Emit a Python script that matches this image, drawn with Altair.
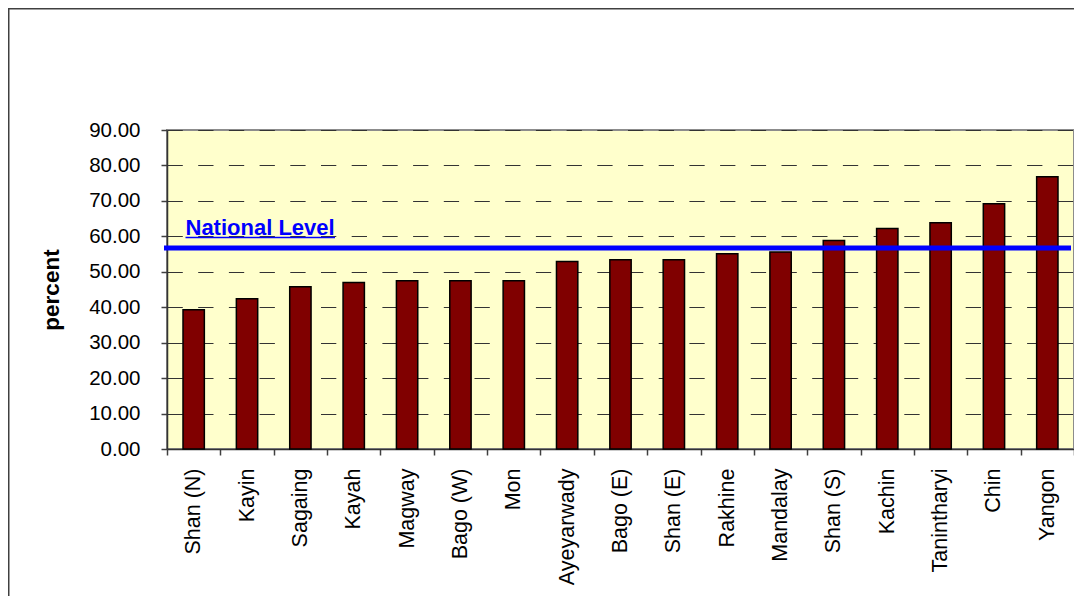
import altair as alt
import pandas as pd

regions = ["Shan (N)", "Kayin", "Sagaing", "Kayah", "Magway", "Bago (W)", "Mon",
           "Ayeyarwady", "Bago (E)", "Shan (E)", "Rakhine", "Mandalay", "Shan (S)",
           "Kachin", "Tanintharyi", "Chin", "Yangon"]
values = [39.3, 42.4, 45.8, 47.0, 47.5, 47.5, 47.5, 52.9, 53.4, 53.4, 55.1, 55.6,
          58.8, 62.2, 63.8, 69.2, 76.8]
y_ticks = [0, 10, 20, 30, 40, 50, 60, 70, 80, 90]
national_value = 56.7
national_label = "National Level"
y_title = "percent"

FONT = "Liberation Sans, Arial, sans-serif"
W, H = 907, 319

df = pd.DataFrame({"region": regions, "value": values})
one = pd.DataFrame({"v": [national_value], "t": [national_label]})

y_scale = alt.Scale(domain=[0, 90], nice=False)
y_axis = alt.Axis(title=y_title, values=y_ticks, format=".2f", labelOverlap=False,
                  tickSize=6, tickColor="#404040", tickWidth=1.5,
                  domainColor="#333333", domainWidth=1.5,
                  labelPadding=21, labelFontSize=20.5, labelFont=FONT,
                  labelColor="black",
                  grid=True, gridColor="#333333", gridWidth=1,
                  gridDash=[15.3, 15.4],
                  titleFont=FONT, titleFontSize=22.5, titleFontWeight="bold",
                  titleColor="black", titlePadding=25)

frame = alt.Chart(one).mark_rect(filled=False, stroke="#404040", strokeWidth=1.5).encode(
    x=alt.value(-158.25), x2=alt.value(W + 60),
    y=alt.value(-121.25), y2=alt.value(H + 220)
)

bars = alt.Chart(df).mark_bar(
    width=alt.RelativeBandSize(0.4), color="#800000", stroke="black", strokeWidth=1.5
).encode(
    x=alt.X("region:N", sort=regions,
            scale=alt.Scale(paddingInner=0, paddingOuter=0),
            axis=alt.Axis(title=None, labelAngle=-90, tickBand="extent", grid=False,
                          tickSize=6, tickColor="#404040", tickWidth=1.5,
                          domainColor="#333333", domainWidth=1.5,
                          labelPadding=13, labelFontSize=21.5, labelFont=FONT,
                          labelColor="black", labelOverlap=False)),
    y=alt.Y("value:Q", scale=y_scale, axis=y_axis)
)

nat_line = alt.Chart(one).mark_rule(color="#0000FF", strokeWidth=5).encode(
    y=alt.Y("v:Q", scale=y_scale, axis=y_axis), x=alt.value(-3), x2=alt.value(W - 3)
)

nat_text = alt.Chart(one).mark_text(
    align="left", baseline="alphabetic", font=FONT, fontSize=22, fontWeight="bold",
    color="#0000FF"
).encode(text="t:N", x=alt.value(18.5), y=alt.value(105))

underline = alt.Chart(one).mark_rule(color="#0000FF", strokeWidth=1.5).encode(
    x=alt.value(18.5), x2=alt.value(168), y=alt.value(107.5)
)

chart = alt.layer(frame, bars, nat_line, nat_text, underline).properties(
    width=W, height=H,
    autosize=alt.AutoSizeParams(type="none"),
    padding={"left": 159, "top": 122, "right": 0, "bottom": 147},
    background="white"
).configure_view(fill="#FFFFCC", stroke="#8c8c8c", strokeWidth=2)

chart.save("out.html", embed_options={"renderer": "svg", "actions": False})
